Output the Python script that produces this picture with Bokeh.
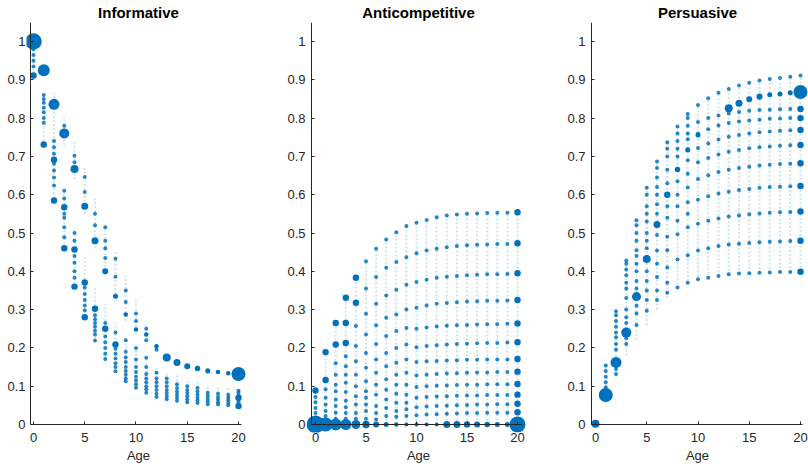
import numpy as np
from bokeh.plotting import figure
from bokeh.layouts import row
from bokeh.models import FixedTicker, Range1d, LinearAxis, ColumnDataSource
from bokeh.embed import file_html
from bokeh.resources import INLINE

# ---------------- data ----------------
ages = list(range(21))
x_ticks = [0, 5, 10, 15, 20]
y_ticks = [0, 0.1, 0.2, 0.3, 0.4, 0.5, 0.6, 0.7, 0.8, 0.9, 1]
y_tick_labels = ["0", "0.1", "0.2", "0.3", "0.4", "0.5", "0.6", "0.7", "0.8", "0.9", "1"]
titles = ["Informative", "Anticompetitive", "Persuasive"]
x_label = "Age"

# Informative: modal trajectory (y) and weights (marker area)
inf_main_y = [1.0, 0.925, 0.836, 0.76, 0.667, 0.57, 0.48, 0.40, 0.335, 0.287, 0.248,
              0.235, 0.204, 0.175, 0.162, 0.152, 0.146, 0.14, 0.137, 0.134, 0.132]
inf_main_w = [17, 9, 7.6, 6.3, 4, 3.1, 3.1, 2.3, 1.6, 1.3, 1.3,
              1.3, 1.3, 4, 3.1, 2.3, 1.9, 1.6, 1.3, 1.3, 12.3]
inf_dots = [
    [0.935, 0.95, 0.965, 0.98, 0.99],
    [0.788, 0.80, 0.815, 0.827, 0.84, 0.85, 0.86],
    [0.624, 0.645, 0.663, 0.681, 0.707, 0.724, 0.74],
    [0.489, 0.515, 0.54, 0.55, 0.59, 0.61, 0.78],
    [0.383, 0.40, 0.422, 0.44, 0.48, 0.5, 0.685, 0.702],
    [0.298, 0.311, 0.325, 0.341, 0.358, 0.607, 0.646],
    [0.219, 0.235, 0.245, 0.255, 0.265, 0.275, 0.285, 0.52, 0.55],
    [0.171, 0.185, 0.2, 0.215, 0.23, 0.265, 0.435, 0.46, 0.48, 0.515],
    [0.139, 0.15, 0.16, 0.172, 0.185, 0.198, 0.24, 0.386, 0.433],
    [0.113, 0.12, 0.13, 0.14, 0.15, 0.163, 0.175, 0.19, 0.22, 0.32, 0.35],
    [0.096, 0.105, 0.115, 0.125, 0.137, 0.15, 0.17, 0.2, 0.27, 0.29],
    [0.083, 0.092, 0.1, 0.11, 0.12, 0.132, 0.15, 0.174, 0.22, 0.25],
    [0.072, 0.08, 0.09, 0.1, 0.11, 0.12, 0.135, 0.195],
    [0.066, 0.074, 0.082, 0.09, 0.1, 0.11, 0.12],
    [0.062, 0.07, 0.078, 0.086, 0.095, 0.105],
    [0.058, 0.066, 0.074, 0.082, 0.09, 0.1],
    [0.056, 0.063, 0.07, 0.078, 0.086, 0.095],
    [0.053, 0.06, 0.067, 0.075, 0.083],
    [0.052, 0.058, 0.065, 0.072, 0.08],
    [0.05, 0.056, 0.063, 0.07, 0.078],
    [0.052, 0.058, 0.064, 0.076, 0.082, 0.088],
]
inf_mid = [[0.911], [0.731], [0.585, 0.691], [0.46, 0.567], [0.36, 0.457], [0.28, 0.371],
           [0.302], [0.25], [0.209], [], [], [], [], [], [], [], [], [], [], [], [0.07, 0.048]]
inf_faint = [
    [(0.90, 1.0)], [(0.72, 0.86)], [(0.58, 0.865)], [(0.45, 0.62), (0.73, 0.805)],
    [(0.355, 0.51), (0.64, 0.74)], [(0.275, 0.44), (0.55, 0.67)], [(0.215, 0.36), (0.46, 0.59)],
    [(0.165, 0.315), (0.39, 0.515)], [(0.138, 0.265), (0.32, 0.45)], [(0.112, 0.225), (0.27, 0.39)],
    [(0.095, 0.195), (0.235, 0.33)], [(0.083, 0.17), (0.215, 0.26)], [(0.07, 0.15), (0.195, 0.21)],
    [(0.065, 0.135)], [(0.06, 0.128)], [(0.057, 0.12)], [(0.055, 0.112)], [(0.052, 0.105)],
    [(0.05, 0.1)], [(0.048, 0.095)], [(0.044, 0.096)],
]

# Anticompetitive: mass at zero (weights) and trajectories
ac_zero_y = [0.0] * 21
ac_zero_w = [20, 12.3, 9, 7.6, 5.1, 3.5, 2.3, 1.6, 1.3, 1, 1, 1, 1, 3.1, 3.1, 2.6, 2.3, 1.9, 1.6, 1.6, 16]
ac_young_dots = [
    [0.015, 0.03, 0.043, 0.058, 0.072],
    [0.022, 0.035, 0.052, 0.07, 0.092],
    [0.015, 0.031, 0.048, 0.065, 0.087, 0.104, 0.13, 0.16],
    [0.015, 0.03, 0.045, 0.062, 0.085, 0.109, 0.13, 0.152, 0.178],
    [0.015, 0.03, 0.052, 0.074, 0.1, 0.13, 0.165, 0.205, 0.257],
    [0.015, 0.035, 0.052, 0.07, 0.087, 0.113, 0.148, 0.187, 0.235, 0.289, 0.355, 0.426],
    [0.013, 0.03, 0.048, 0.078, 0.104, 0.135, 0.17, 0.21, 0.259, 0.315, 0.385, 0.459],
    [0.022, 0.043, 0.065, 0.091, 0.118, 0.152, 0.187, 0.231, 0.279, 0.337, 0.409, 0.483],
    [0.02, 0.035, 0.057, 0.08, 0.104, 0.13, 0.161, 0.2, 0.244, 0.287, 0.352, 0.424, 0.502],
    [0.022, 0.04, 0.057, 0.078, 0.104, 0.135, 0.17, 0.209, 0.252, 0.3, 0.365, 0.437, 0.518],
]
ac_young_mid = [[0.089], [0.116, 0.189], [0.209, 0.265], [0.213, 0.265, 0.331], [0.318, 0.383],
                [], [], [], [], []]
ac_old_ages = list(range(10, 21))
ac_old_curves = [
    [0.527, 0.534, 0.541, 0.546, 0.548, 0.550, 0.551, 0.552, 0.553, 0.553, 0.554],
    [0.447, 0.454, 0.459, 0.463, 0.466, 0.468, 0.469, 0.470, 0.471, 0.471, 0.473],
    [0.372, 0.378, 0.383, 0.386, 0.388, 0.390, 0.391, 0.392, 0.392, 0.393, 0.395],
    [0.305, 0.311, 0.315, 0.317, 0.319, 0.321, 0.322, 0.323, 0.323, 0.324, 0.325],
    [0.250, 0.253, 0.256, 0.258, 0.259, 0.260, 0.261, 0.262, 0.262, 0.263, 0.264],
    [0.202, 0.205, 0.207, 0.209, 0.210, 0.211, 0.212, 0.213, 0.213, 0.214, 0.215],
    [0.163, 0.165, 0.166, 0.167, 0.168, 0.169, 0.169, 0.170, 0.170, 0.170, 0.171],
    [0.128, 0.130, 0.132, 0.133, 0.134, 0.135, 0.136, 0.136, 0.137, 0.137, 0.138],
    [0.098, 0.100, 0.101, 0.102, 0.103, 0.104, 0.104, 0.105, 0.105, 0.105, 0.106],
    [0.070, 0.072, 0.073, 0.074, 0.075, 0.076, 0.076, 0.077, 0.077, 0.077, 0.078],
    [0.045, 0.047, 0.048, 0.049, 0.050, 0.051, 0.052, 0.052, 0.053, 0.053, 0.054],
    [0.024, 0.026, 0.027, 0.028, 0.029, 0.030, 0.030, 0.031, 0.031, 0.031, 0.032],
]
ac_faint_hi = [0.09, 0.19, 0.265, 0.331, 0.383, 0.426, 0.459, 0.483, 0.502, 0.518, 0.527,
               0.534, 0.541, 0.546, 0.548, 0.55, 0.551, 0.552, 0.553, 0.553, 0.554]

# Persuasive
pe_main_y = [0.002, 0.077, 0.162, 0.24, 0.334, 0.432, 0.522, 0.60, 0.666, 0.717, 0.756,
             None, None, 0.826, 0.839, 0.849, 0.856, 0.861, 0.863, 0.866, 0.868]
pe_main_w = [4, 12.3, 7.6, 6.3, 5.1, 4, 3.1, 2.6, 1.9, 1.6, 1.6,
             None, None, 4, 3.1, 2.3, 2.3, 1.6, 1.6, 1.6, 12.3]
pe_young_dots = [
    [0.003],
    [0.154, 0.14, 0.125, 0.11, 0.097],
    [0.296, 0.285, 0.27, 0.255, 0.24, 0.228, 0.21, 0.195, 0.145, 0.132],
    [0.428, 0.42, 0.405, 0.39, 0.37, 0.355, 0.33, 0.30, 0.28, 0.265, 0.225, 0.21],
    [0.533, 0.52, 0.5, 0.48, 0.455, 0.44, 0.42, 0.40, 0.375, 0.355, 0.31, 0.29, 0.26],
    [0.618, 0.60, 0.57, 0.55, 0.53, 0.50, 0.48, 0.46, 0.40, 0.375, 0.35, 0.325, 0.297],
    [0.687, 0.67, 0.645, 0.62, 0.6, 0.575, 0.55, 0.495, 0.454, 0.42, 0.385, 0.35, 0.325],
    [0.737, 0.72, 0.70, 0.665, 0.63, 0.57, 0.54, 0.49, 0.455, 0.41, 0.37, 0.344],
    [0.778, 0.76, 0.74, 0.72, 0.70, 0.635, 0.60, 0.57, 0.532, 0.497, 0.431, 0.358],
    [0.811, 0.80, 0.78, 0.76, 0.745, 0.69, 0.655, 0.619, 0.58, 0.55, 0.515, 0.442, 0.37],
]
pe_old_ages = list(range(10, 21))
pe_old_curves = [
    [0.379, 0.383, 0.388, 0.392, 0.394, 0.395, 0.396, 0.397, 0.398, 0.398, 0.399],
    [0.454, 0.460, 0.466, 0.470, 0.472, 0.474, 0.476, 0.477, 0.478, 0.479, 0.480],
    [0.524, 0.532, 0.538, 0.543, 0.546, 0.549, 0.551, 0.553, 0.554, 0.555, 0.556],
    [0.587, 0.596, 0.603, 0.608, 0.612, 0.615, 0.618, 0.620, 0.621, 0.622, 0.623],
    [0.641, 0.651, 0.659, 0.665, 0.670, 0.673, 0.676, 0.678, 0.680, 0.681, 0.682],
    [0.685, 0.696, 0.705, 0.712, 0.717, 0.721, 0.724, 0.726, 0.728, 0.729, 0.730],
    [0.722, 0.734, 0.744, 0.751, 0.756, 0.760, 0.763, 0.765, 0.767, 0.768, 0.769],
    [0.759, 0.771, 0.781, 0.787, 0.791, 0.794, 0.796, 0.798, 0.799, 0.800, 0.800],
    [0.790, 0.800, 0.807, 0.812, 0.816, 0.819, 0.821, 0.822, 0.823, 0.824, 0.824],
]
pe_top = [0.834, 0.852, 0.866, 0.876, 0.885, 0.892, 0.898, 0.902, 0.905, 0.908, 0.911]
pe_faint_lo = [0.0, 0.08, 0.125, 0.18, 0.22, 0.26, 0.30, 0.33, 0.355, 0.365, 0.376,
               0.382, 0.387, 0.39, 0.392, 0.394, 0.395, 0.396, 0.397, 0.398, 0.399]
pe_faint_hi = [0.005, 0.155, 0.30, 0.43, 0.535, 0.62, 0.69, 0.74, 0.78, 0.81, 0.835,
               0.852, 0.866, 0.876, 0.885, 0.892, 0.898, 0.902, 0.905, 0.908, 0.911]

# ---------------- styling / layout ----------------
BLUE = "#0072BD"
AXC = "#262626"
FONT = "Liberation Sans"
DOT_W = 1.0      # weight of a plain dot
MID_W = 2.6      # weight of a heavier dot
Y0 = -(432 - 424) / 383.0
Y1 = (424 - 22) / 383.0


def size_of(w):
    return 4.0 * np.sqrt(w)


def style_common(ax):
    ax.minor_tick_in = 0
    ax.minor_tick_out = 0
    ax.major_label_text_font = FONT
    ax.major_label_text_font_size = "13px"
    ax.major_label_text_color = AXC


def make_panel(title, width, bl, br, xs, xe, xb, toff, main, dots, mids, segs):
    p = figure(width=width, height=468, x_range=Range1d(xs, xe), y_range=Range1d(Y0, Y1),
               output_backend="svg", toolbar_location=None, title=title,
               min_border_left=bl, min_border_right=br, min_border_top=22, min_border_bottom=36)
    p.grid.visible = False
    p.outline_line_color = None
    p.background_fill_color = "white"
    p.border_fill_color = "white"
    p.title.text_font = FONT
    p.title.text_font_size = "15px"
    p.title.text_font_style = "bold"
    p.title.text_color = "#000000"
    p.title.align = "center"
    p.title.standoff = 3
    p.title.offset = toff

    sx, slo, shi = segs
    p.segment(x0=sx, y0=slo, x1=sx, y1=shi, line_color=BLUE, line_alpha=0.2,
              line_width=2, line_dash="2 2")
    dx, dy = dots
    p.scatter(x=dx, y=dy, size=size_of(DOT_W), fill_color=BLUE, fill_alpha=0.85, line_color=None)
    mx, my = mids
    p.scatter(x=mx, y=my, size=size_of(MID_W), fill_color=BLUE, fill_alpha=1.0, line_color=None)
    bx, by, bw = main
    src = ColumnDataSource(dict(x=bx, y=by, s=[size_of(w) for w in bw]))
    p.scatter(x="x", y="y", size="s", source=src, fill_color=BLUE, line_color=None)

    # label axes at the frame edges (text only)
    xl = p.xaxis[0]
    xl.ticker = FixedTicker(ticks=x_ticks)
    xl.axis_line_color = None
    xl.major_tick_in = 0
    xl.major_tick_out = 0
    xl.major_label_standoff = 0
    xl.axis_label = x_label
    xl.axis_label_standoff = 3
    xl.axis_label_text_font = FONT
    xl.axis_label_text_font_size = "13px"
    xl.axis_label_text_font_style = "normal"
    xl.axis_label_text_color = AXC
    style_common(xl)

    yl = p.yaxis[0]
    yl.ticker = FixedTicker(ticks=y_ticks)
    yl.major_label_overrides = {t: s for t, s in zip(y_ticks, y_tick_labels)}
    yl.axis_line_color = None
    yl.major_tick_in = 0
    yl.major_tick_out = 0
    yl.major_label_standoff = 1
    style_common(yl)

    # axis lines and inward ticks at the data origin (no labels of their own)
    xa = LinearAxis(fixed_location=0, bounds=xb, ticker=FixedTicker(ticks=x_ticks),
                    major_label_text_font_size="0px", major_label_text_color=None,
                    major_label_standoff=0,
                    axis_line_color=AXC, major_tick_line_color=AXC,
                    major_tick_in=3, major_tick_out=0, minor_tick_in=0, minor_tick_out=0)
    p.add_layout(xa, "below")
    ya = LinearAxis(fixed_location=xb[0], bounds=(0, 1.05), ticker=FixedTicker(ticks=y_ticks),
                    major_label_text_font_size="0px", major_label_text_color=None,
                    major_label_standoff=0,
                    axis_line_color=AXC, major_tick_line_color=AXC,
                    major_tick_in=3, major_tick_out=0, minor_tick_in=0, minor_tick_out=0)
    p.add_layout(ya, "left")
    return p


def flatten(per_age, age_list):
    xs, ys = [], []
    for a, vals in zip(age_list, per_age):
        for v in vals:
            xs.append(a)
            ys.append(v)
    return xs, ys


def clean(xv, yv, wv):
    out = [(a, b, c) for a, b, c in zip(xv, yv, wv) if b is not None]
    return [o[0] for o in out], [o[1] for o in out], [o[2] for o in out]


# Informative  (frame 26..250 local; x=0 at 33, 10.25 px/unit)
inf_sx, inf_slo, inf_shi = [], [], []
for a, rngs in zip(ages, inf_faint):
    for lo, hi in rngs:
        inf_sx.append(a); inf_slo.append(lo); inf_shi.append(hi)
p1 = make_panel(titles[0], 270, 26, 20, -0.683, 21.171, (-0.29, 20.29), -2,
                (ages, inf_main_y, inf_main_w), flatten(inf_dots, ages), flatten(inf_mid, ages),
                (inf_sx, inf_slo, inf_shi))

# Anticompetitive  (frame 36..260 local; x=0 at 45, 10.1 px/unit)
ac_dx, ac_dy = flatten(ac_young_dots, ages[:10])
ac_mx, ac_my = flatten(ac_young_mid, ages[:10])
for curve in ac_old_curves:
    for a, v in zip(ac_old_ages, curve):
        if a == 20:
            ac_mx.append(a); ac_my.append(v)
        else:
            ac_dx.append(a); ac_dy.append(v)
p2 = make_panel(titles[1], 270, 36, 10, -0.891, 21.287, (-0.43, 20.45), 0,
                (ages, ac_zero_y, ac_zero_w), (ac_dx, ac_dy), (ac_mx, ac_my),
                (ages, [0.0] * 21, ac_faint_hi))

# Persuasive  (frame 46..268 local; x=0 at 55, 10.25 px/unit)
pe_dx, pe_dy = flatten(pe_young_dots, ages[:10])
pe_mx, pe_my = [], []
for curve in pe_old_curves:
    for a, v in zip(pe_old_ages, curve):
        if a == 20:
            pe_mx.append(a); pe_my.append(v)
        else:
            pe_dx.append(a); pe_dy.append(v)
for a, v in zip(pe_old_ages, pe_top):
    pe_dx.append(a); pe_dy.append(v)
pmx, pmy, pmw = clean(ages, pe_main_y, pe_main_w)
p3 = make_panel(titles[2], 268, 46, 0, -0.878, 20.78, (-0.39, 20.2), 0,
                (pmx, pmy, pmw), (pe_dx, pe_dy), (pe_mx, pe_my),
                (ages, pe_faint_lo, pe_faint_hi))

layout = row(p1, p2, p3)
open("out.html", "w").write(file_html(layout, INLINE))
